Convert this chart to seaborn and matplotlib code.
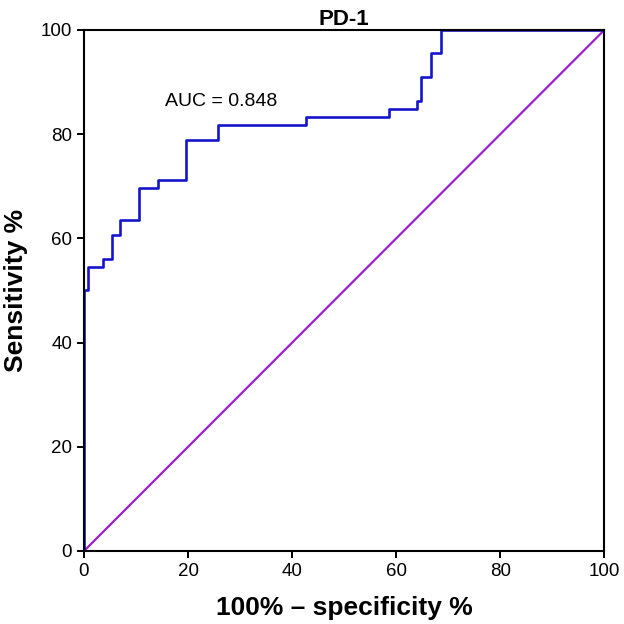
import numpy as np
import pandas as pd
import seaborn as sns
import matplotlib.pyplot as plt

# ROC points (percent)
fpr = [0, 0, 0.8, 3.6, 5.3, 7.0, 10.6, 14.3, 19.6, 25.7, 42.6, 58.7, 64.0, 64.8, 66.7, 68.6, 100]
tpr = [0, 50.0, 54.5, 56.1, 60.6, 63.6, 69.7, 71.2, 78.8, 81.8, 83.3, 84.8, 86.4, 90.9, 95.5, 100, 100]
auc_text = "AUC = 0.848"
title = "PD-1"
ticks = [0, 20, 40, 60, 80, 100]

sns.set_style("ticks")
plt.rcParams['font.family'] = ['Liberation Sans', 'DejaVu Sans']
plt.rcParams['text.color'] = 'black'
plt.rcParams['axes.labelcolor'] = 'black'

df = pd.DataFrame({'fpr': fpr, 'tpr': tpr})
ref = pd.DataFrame({'x': [0, 100], 'y': [0, 100]})

fig = plt.figure(figsize=(6.24, 6.24), dpi=100)
ax = fig.add_axes([0.1346, 0.117, 0.834, 0.835])

sns.lineplot(data=ref, x='x', y='y', ax=ax, color='#9a1fd0', lw=1.6,
             sort=False, estimator=None)
sns.lineplot(data=df, x='fpr', y='tpr', ax=ax, color='#1414cc', lw=1.9,
             sort=False, estimator=None, drawstyle='steps-post')

ax.set_xlim(0, 100)
ax.set_ylim(0, 100)
ax.set_xticks(ticks)
ax.set_yticks(ticks)
ax.tick_params(labelsize=13.5, width=1.4, length=5, color='black', labelcolor='black')
for s in ax.spines.values():
    s.set_linewidth(1.5)
    s.set_color('black')

ax.set_xlabel("100% \u2013 specificity %", fontsize=19, fontweight='bold', labelpad=12)
ax.set_ylabel("Sensitivity %", fontsize=19, fontweight='bold', labelpad=9)
ax.set_title(title, fontsize=16, fontweight='bold', pad=3, color='black')
ax.text(26.3, 86.3, auc_text, fontsize=14, ha='center', va='center', color='black')

fig.savefig('out.png', dpi=100)
